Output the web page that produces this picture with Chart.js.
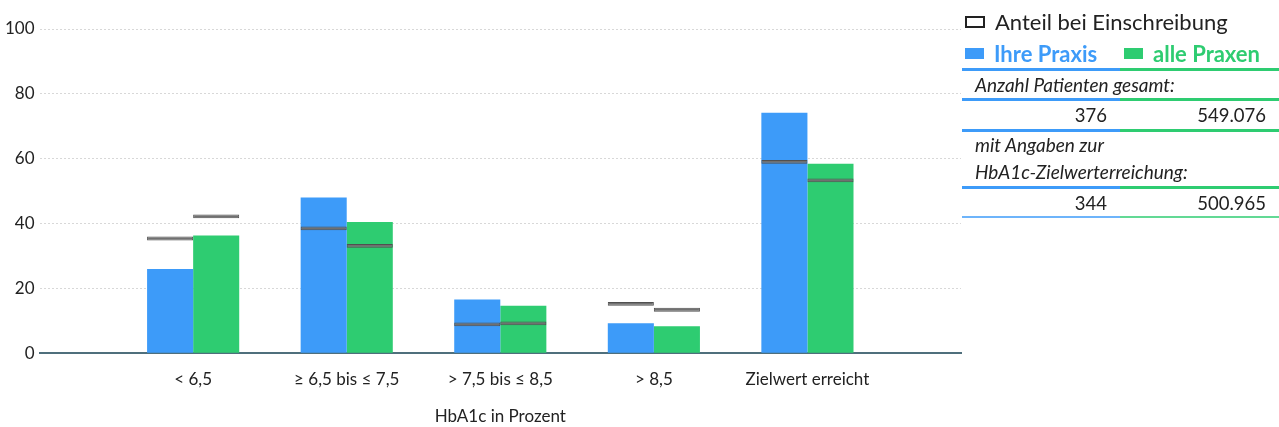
<!DOCTYPE html>
<html>
<head>
<meta charset="utf-8">
<script src="https://cdn.jsdelivr.net/npm/chart.js@4"></script>
<style>
  body { margin: 0; background: #fff; font-family: "Lato", "Noto Sans", sans-serif; color: #222; overflow: hidden; }
  #wrap { position: absolute; left: 0; top: 0; width: 977px; height: 427px; }
  #panel { position: absolute; left: 962px; top: 0; width: 317px; font-size: 19px; }
  .leg1 { position: absolute; left: 3px; top: 8px; font-size: 22px; white-space: nowrap; }
  .leg1 .box { display: inline-block; width: 16px; height: 8px; border: 2px solid #222; margin-right: 10px; vertical-align: 2px; }
  .leg2 { position: absolute; top: 40px; font-size: 22px; font-weight: bold; white-space: nowrap; }
  .leg2 .sq { display: inline-block; width: 19px; height: 11px; margin-right: 10px; vertical-align: 3px; }
  .line { position: absolute; left: 0; width: 317px; height: 3px;
          background: linear-gradient(to right, #3d9bf9 0, #3d9bf9 158px, #2ecc71 158px, #2ecc71 317px); }
  .lbl { position: absolute; left: 13px; font-style: italic; white-space: nowrap; }
  .num { position: absolute; text-align: right; white-space: nowrap; font-size: 18.5px; }
</style>
</head>
<body>
<div id="wrap"><canvas id="c"></canvas></div>
<div id="panel">
  <div class="leg1"><span class="box"></span>Anteil bei Einschreibung</div>
  <div class="leg2" style="left:3px;color:#3d9bf9"><span class="sq" style="background:#3d9bf9"></span>Ihre Praxis</div>
  <div class="leg2" style="left:162px;color:#2ecc71"><span class="sq" style="background:#2ecc71"></span>alle Praxen</div>
  <div class="line" style="top:68px"></div>
  <div class="lbl" style="top:73px">Anzahl Patienten gesamt:</div>
  <div class="line" style="top:98px"></div>
  <div class="num" style="top:104px;right:172px">376</div>
  <div class="num" style="top:104px;right:13px">549.076</div>
  <div class="line" style="top:129px"></div>
  <div class="lbl" style="top:133px">mit Angaben zur</div>
  <div class="lbl" style="top:160px">HbA1c-Zielwerterreichung:</div>
  <div class="line" style="top:186px"></div>
  <div class="num" style="top:192px;right:172px">344</div>
  <div class="num" style="top:192px;right:13px">500.965</div>
  <div class="line" style="top:216px;height:2px;opacity:0.75"></div>
</div>
<script>
const categories = ['< 6,5', '\u2265 6,5 bis \u2264 7,5', '> 7,5 bis \u2264 8,5', '> 8,5', 'Zielwert erreicht'];
const ihrePraxis = [26, 48, 16.6, 9.2, 74.2];
const allePraxen = [36.3, 40.5, 14.6, 8.3, 58.4];
const einschreibungIhre = [35.4, 38.5, 8.9, 15.2, 59.0];
const einschreibungAlle = [42.2, 33.1, 9.2, 13.4, 53.3];
const yTicks = [0, 20, 40, 60, 80, 100];

const BLUE = '#3d9bf9';
const GREEN = '#2ecc71';

// empty slot left and right, like in the original
const pad = arr => [null, ...arr, null];
const marker = v => [v - 0.6, v + 0.6];

new Chart(document.getElementById('c'), {
  type: 'bar',
  data: {
    labels: ['', ...categories, ''],
    datasets: [
      { label: 'Einschreibung Ihre', data: pad(einschreibungIhre.map(marker)), stack: 'ihre',
        backgroundColor: '#707070', borderColor: '#505050', borderWidth: 1, borderSkipped: false, order: 0 },
      { label: 'Einschreibung alle', data: pad(einschreibungAlle.map(marker)), stack: 'alle',
        backgroundColor: '#707070', borderColor: '#505050', borderWidth: 1, borderSkipped: false, order: 0 },
      { label: 'Ihre Praxis', data: pad(ihrePraxis), stack: 'ihre', backgroundColor: BLUE, order: 1 },
      { label: 'alle Praxen', data: pad(allePraxen), stack: 'alle', backgroundColor: GREEN, order: 1 }
    ]
  },
  options: {
    responsive: true,
    maintainAspectRatio: false,
    animation: false,
    categoryPercentage: 0.6,
    barPercentage: 1,
    layout: { padding: { top: 29, right: 3, bottom: 0, left: 0 } },
    plugins: { legend: { display: false }, tooltip: { enabled: false } },
    scales: {
      x: {
        offset: false,
        grid: { display: false, drawTicks: false },
        border: { display: true, color: '#4f6f7c', width: 2 },
        ticks: { color: '#222', font: { family: 'Lato', size: 17 }, padding: 16, autoSkip: false, maxRotation: 0 },
        title: { display: true, text: 'HbA1c in Prozent', color: '#222', font: { family: 'Lato', size: 17 }, padding: { top: 1, bottom: 0 } }
      },
      y: {
        stacked: false,
        min: 0,
        max: 100,
        afterBuildTicks: axis => { axis.ticks = yTicks.map(v => ({ value: v })); },
        grid: { color: '#d8d8d8', drawTicks: false },
        border: { display: false, dash: [2, 2] },
        ticks: { color: '#222', font: { family: 'Lato', size: 17 }, padding: 5 }
      }
    }
  }
});
</script>
</body>
</html>
